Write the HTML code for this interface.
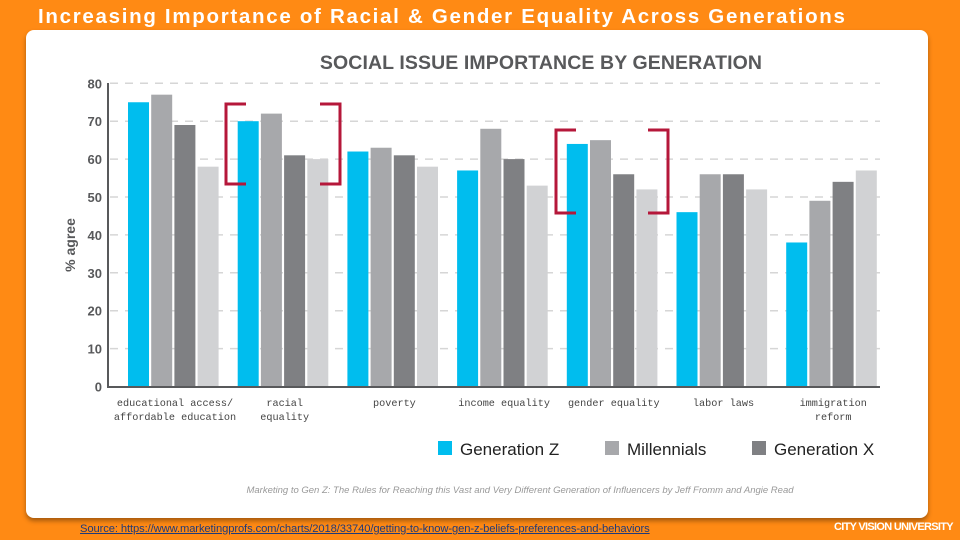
<!DOCTYPE html>
<html><head><meta charset="utf-8"><style>
body{margin:0;width:960px;height:540px;background:#ff8a14;overflow:hidden;position:relative;font-family:"Liberation Sans",sans-serif}
#title{position:absolute;left:38px;top:5px;color:#fff;font-weight:bold;font-size:20.5px;letter-spacing:1.7px;white-space:nowrap}
#card{position:absolute;left:26px;top:30px;width:902px;height:488px;background:#fff;border-radius:8px;box-shadow:0 3px 5px rgba(0,0,0,.35)}
#src{position:absolute;left:80px;top:523px;font-size:11.2px;color:#1f3a7a;text-decoration:underline;white-space:nowrap;letter-spacing:-0.1px}
#cvu{position:absolute;left:834px;top:521px;font-size:11px;font-weight:bold;color:#fff;letter-spacing:-0.7px;white-space:nowrap}
svg{position:absolute;left:0;top:0}
</style></head><body>
<div id="title">Increasing Importance of Racial &amp; Gender Equality Across Generations</div>
<div id="card"></div>
<svg id="chart" width="960" height="540"></svg>
<div id="src">Source: https://www.marketingprofs.com/charts/2018/33740/getting-to-know-gen-z-beliefs-preferences-and-behaviors</div>
<div id="cvu">CITY VISION UNIVERSITY</div>
<script>
const categories=[["educational access/","affordable education"],["racial","equality"],["poverty"],["income equality"],["gender equality"],["labor laws"],["immigration","reform"]];
const genZ=[75,70,62,57,64,46,38];
const millennials=[77,72,63,68,65,56,49];
const genX=[69,61,61,60,56,56,54];
const boomers=[58,60,58,53,52,52,57];
const yTicks=[0,10,20,30,40,50,60,70,80];
const seriesNames=["Generation Z","Millennials","Generation X"];
const series=[genZ,millennials,genX,boomers];
const colors=["#00bdee","#a7a8ab","#7f8083","#d1d2d4"];
const NS="http://www.w3.org/2000/svg";
const svg=document.getElementById('chart');
const y0=386.5,pxPer=37.9/10;
function yS(v){return y0-v*pxPer;}
function gX(i){return 128+i*109.7;}
function mk(t,a,txt){const e=document.createElementNS(NS,t);for(const k in a)e.setAttribute(k,a[k]);if(txt!==undefined)e.textContent=txt;svg.appendChild(e);return e;}
let e=mk('text',{x:541,y:69,'text-anchor':'middle','font-size':19.5,'letter-spacing':0.1,'font-weight':'bold',fill:'#58595b','font-family':'Liberation Sans'},'SOCIAL ISSUE IMPORTANCE BY GENERATION');

yTicks.forEach(t=>{
  if(t>0){const g=mk('line',{x1:110,x2:880,y1:yS(t),y2:yS(t),stroke:'#d6d6d6','stroke-width':1.5,'stroke-dasharray':'8,7'});
  }
  const l=mk('text',{x:102,y:yS(t)+5,'text-anchor':'end','font-size':13,'font-weight':'bold',fill:'#58595b'},t);
  
});
e=mk('text',{x:0,y:0,transform:'translate(75,245) rotate(-90)','text-anchor':'middle','font-size':14,'font-weight':'bold',fill:'#58595b'},'% agree');

categories.forEach((c,i)=>{
  series.forEach((s,j)=>{
    const r=mk('rect',{x:gX(i)+j*23.2,y:yS(s[i]),width:21,height:y0-yS(s[i]),fill:colors[j]});
    
  });
  c.forEach((line,k)=>{
    const t=mk('text',{x:gX(i)+47,y:406+k*14,'text-anchor':'middle','font-size':10.2,fill:'#444','font-family':'Liberation Mono'},line);
    
  });
});
e=mk('path',{d:'M108,83 V387 H880',fill:'none',stroke:'#58595b','stroke-width':2});

function bracket(x1,x2,ya,yb,nm){
  const b=mk('path',{d:`M${x1+20},${ya} H${x1} V${yb} H${x1+20} M${x2-20},${ya} H${x2} V${yb} H${x2-20}`,fill:'none',stroke:'#b5173a','stroke-width':3});
  
}
bracket(226,340,104,184,'racial-highlight-bracket');
bracket(556,668,130,213,'gender-highlight-bracket');
const lx=[438,605,752];
seriesNames.forEach((n,j)=>{
  const r=mk('rect',{x:lx[j],y:441,width:14,height:14,fill:colors[j]});
  
  const t=mk('text',{x:lx[j]+22,y:455,'font-size':17,fill:'#222'},n);
  
});
e=mk('text',{x:520,y:493,'text-anchor':'middle','font-size':9.5,'font-style':'italic',fill:'#999'},'Marketing to Gen Z: The Rules for Reaching this Vast and Very Different Generation of Influencers by Jeff Fromm and Angie Read');

</script>
</body></html>
